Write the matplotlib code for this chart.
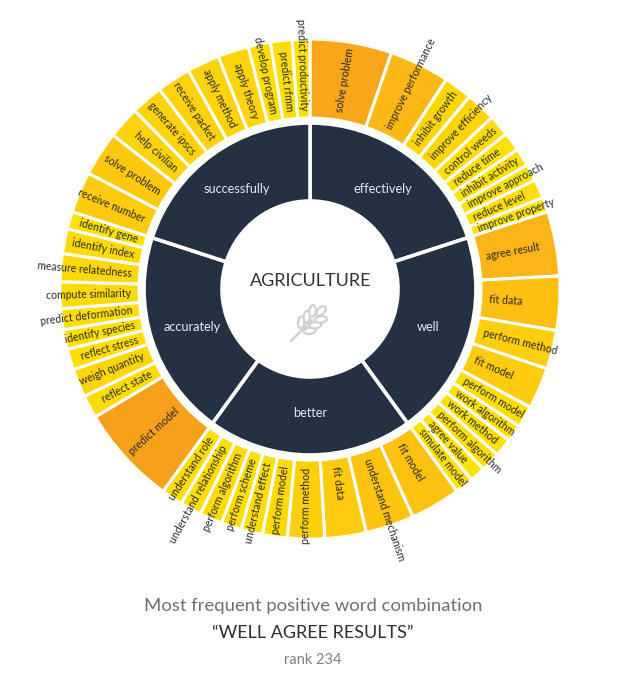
import numpy as np
import matplotlib.pyplot as plt
from matplotlib.colors import LinearSegmentedColormap, Normalize
from matplotlib.patches import Ellipse

plt.rcParams['font.family'] = ['Lato', 'DejaVu Sans']

# inner ring, clockwise from the top
parents = ['effectively', 'well', 'better', 'accurately', 'successfully']

effectively_words = ['solve problem', 'improve performance', 'inhibit growth', 'improve efficiency',
                     'control weeds', 'reduce time', 'inhibit activity', 'improve approach',
                     'reduce level', 'improve property']
effectively_vals = [19, 14, 6.6, 7, 5, 4.4, 4.2, 3.9, 4.4, 3.4]

well_words = ['agree result', 'fit data', 'perform method', 'fit model', 'perform model',
              'work algorithm', 'work method', 'perform algorithm', 'agree value', 'simulate model']
well_vals = [14.8, 12.4, 8.9, 9.5, 5, 3.9, 4.2, 4.5, 3.6, 4.2]

better_words = ['fit model', 'understand mechanism', 'fit data', 'perform method', 'perform model',
                'understand effect', 'perform scheme', 'perform algorithm', 'understand relationship',
                'understand role']
better_vals = [11.7, 11.3, 9.6, 8.6, 5.8, 5, 4.7, 5.3, 5, 5]

accurately_words = ['predict model', 'reflect state', 'weigh quantity', 'reflect stress',
                    'identify species', 'predict deformation', 'compute similarity',
                    'measure relatedness', 'identify index', 'identify gene']
accurately_vals = [22.9, 5.3, 6.5, 4.8, 4.5, 4.8, 6.1, 6.4, 5.7, 4]

successfully_words = ['receive number', 'solve problem', 'help civilian', 'generate ipscs',
                      'receive packet', 'apply method', 'apply theory', 'develop program',
                      'predict rfmm', 'predict productivity']
successfully_vals = [9.6, 10.4, 7.5, 7.5, 7.9, 7.6, 7.2, 5.2, 5, 4.1]

words = [effectively_words, well_words, better_words, accurately_words, successfully_words]
vals = [effectively_vals, well_vals, better_vals, accurately_vals, successfully_vals]

navy = '#243142'
cmap = LinearSegmentedColormap.from_list('yo', ['#FFE304', '#FFCC0D', '#FBB417', '#F7A01C'])
norm = Normalize(3.5, 21)

fig = plt.figure(figsize=(6.29, 6.80), dpi=100)
# polar axes, 1 unit = 1 pixel
ax = fig.add_axes([60 / 629, (391 - 250) / 680, 500 / 629, 500 / 680], projection='polar')
ax.set_ylim(0, 250)
ax.set_axis_off()

seg = 72.0
for i, p in enumerate(parents):
    start = 90 - i * seg
    mid = start - seg / 2
    ax.bar(np.deg2rad(mid), 166 - 88, width=np.deg2rad(seg), bottom=88,
           color=navy, edgecolor='white', linewidth=2.6)
    ax.text(np.deg2rad(mid), 124, p, color='#E4E7EC', fontsize=9.2,
            ha='center', va='center')

    v = np.array(vals[i], dtype=float)
    spans = v / v.sum() * seg
    edges = start - np.concatenate([[0], np.cumsum(spans)])
    for w, val, a0, sp in zip(words[i], v, edges[:-1], spans):
        a = a0 - sp / 2
        ax.bar(np.deg2rad(a), 250 - 171, width=np.deg2rad(sp), bottom=171,
               color=cmap(norm(val)), edgecolor='white', linewidth=2.2)
        an = (a + 180) % 360 - 180
        if -90 <= an <= 90:
            rot, ha = an, 'left'
        else:
            rot, ha = an - 180 if an > 0 else an + 180, 'right'
        ax.text(np.deg2rad(a), 179, w, rotation=rot, rotation_mode='anchor',
                ha=ha, va='center', fontsize=7.6, color='#2A2A2A')

# overlay in pixel coordinates for centre and caption
ov = fig.add_axes([0, 0, 1, 1])
ov.set_xlim(0, 629)
ov.set_ylim(680, 0)
ov.set_axis_off()
ov.patch.set_alpha(0)

ov.text(311, 281, 'AGRICULTURE', ha='center', va='center', fontsize=13,
        color='#333333')

# wheat icon
gray = '#D0D0D0'
cx, cy = 309, 323
axis_deg = 45
d = np.array([np.cos(np.deg2rad(axis_deg)), -np.sin(np.deg2rad(axis_deg))])
n = np.array([-d[1], d[0]])
ctr = np.array([cx, cy])
p0 = ctr - d * 25
p1 = ctr + d * 4
ov.plot([p0[0], p1[0]], [p0[1], p1[1]], color=gray, lw=1.8, solid_capstyle='round')
for t in [-9, -1, 7]:
    for s in (1, -1):
        c = ctr + d * (t + 4) + n * s * 6
        ang = axis_deg - s * 38
        ov.add_patch(Ellipse(c, 12, 6.5, angle=-ang, facecolor='white',
                             edgecolor=gray, lw=1.6))
ov.add_patch(Ellipse(ctr + d * 17, 12, 6.5, angle=-axis_deg, facecolor='white',
                     edgecolor=gray, lw=1.6))

ov.text(313, 606, 'Most frequent positive word combination', ha='center', va='center',
        fontsize=13.3, color='#707070')
ov.text(313, 633, '\u201cWELL AGREE RESULTS\u201d', ha='center', va='center',
        fontsize=13, color='#2E2E2E')
ov.text(313, 660, 'rank 234', ha='center', va='center', fontsize=10.5, color='#808080')

fig.savefig('out.png', dpi=100)
